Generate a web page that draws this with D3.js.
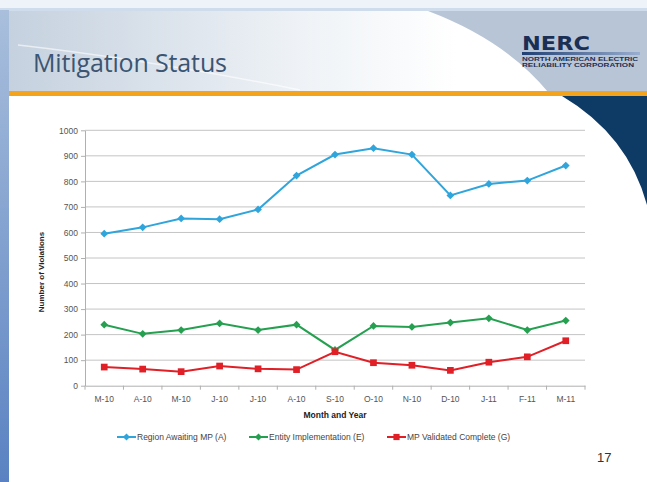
<!DOCTYPE html>
<meta charset="utf-8">
<style>
body { margin: 0; background: #fff; }
svg text { font-family: "Liberation Sans", Arial, sans-serif; }
.grid line { stroke: #c4c4c4; stroke-width: 1; }
.axis path, .axis line { stroke: #b0b0b0; }
.axis text { fill: #555; font-size: 8.5px; }
</style>
<body>
<script src="https://d3js.org/d3.v7.min.js"></script>
<script>

// chart data
var months = ["M-10","A-10","M-10","J-10","J-10","A-10","S-10","O-10","N-10","D-10","J-11","F-11","M-11"];
var regionAwaiting = [595, 620, 655, 652, 690, 823, 905, 930, 905, 745, 790, 803, 862];
var entityImpl = [239, 203, 218, 244, 218, 239, 140, 234, 230, 247, 264, 218, 255];
var mpValidated = [73, 65, 55, 77, 66, 63, 133, 90, 80, 60, 92, 113, 176];
var yTicks = [0, 100, 200, 300, 400, 500, 600, 700, 800, 900, 1000];
var seriesNames = ["Region Awaiting MP (A)", "Entity Implementation (E)", "MP Validated Complete (G)"];

var W = 647, H = 482;
var svg = d3.select("body").append("svg")
    .attr("width", W).attr("height", H);

var defs = svg.append("defs");
var hg = defs.append("linearGradient").attr("id", "hdr");
hg.append("stop").attr("offset", "0").attr("stop-color", "#c5d1df");
hg.append("stop").attr("offset", "0.45").attr("stop-color", "#eef2f6");
hg.append("stop").attr("offset", "0.7").attr("stop-color", "#ffffff");
var lg = defs.append("linearGradient").attr("id", "lside")
    .attr("x1", 0).attr("y1", 0).attr("x2", 0).attr("y2", 1);
lg.append("stop").attr("offset", "0").attr("stop-color", "#a9bfdc");
lg.append("stop").attr("offset", "1").attr("stop-color", "#5a82c2");
var bg = defs.append("linearGradient").attr("id", "bar");
bg.append("stop").attr("offset", "0").attr("stop-color", "#1f3f73");
bg.append("stop").attr("offset", "1").attr("stop-color", "#9aaed0");

// window chrome
svg.append("rect").attr("width", W).attr("height", 10).attr("fill", "#eef3f9");
svg.append("rect").attr("y", 8).attr("width", W).attr("height", 3).attr("fill", "#cfdcec");
svg.append("rect").attr("y", 10).attr("width", 9).attr("height", H - 10).attr("fill", "url(#lside)");

// slide header
svg.append("rect").attr("x", 9).attr("y", 11).attr("width", W - 9).attr("height", 81).attr("fill", "url(#hdr)");
svg.append("path").attr("d", "M18,45 Q150,60 300,90").attr("fill", "none")
    .attr("stroke", "#ffffff").attr("stroke-opacity", 0.6).attr("stroke-width", 1.5);
svg.append("path").attr("d", "M428,11 Q505,40 548,92 L647,92 L647,11 Z").attr("fill", "#b8c5d6");
svg.append("rect").attr("x", 9).attr("y", 91).attr("width", W - 9).attr("height", 5).attr("fill", "#f4a31d");

// navy swoosh
svg.append("path").attr("d", "M562,96 L647,96 L647,205 Q628,135 562,96 Z").attr("fill", "#0e3a66");

svg.append("text").attr("x", 33).attr("y", 72)
    .style("font-family", "'Open Sans', sans-serif").style("font-size", "25px")
    .attr("fill", "#3b5572").attr("textLength", 194).text("Mitigation Status");

// logo
svg.append("text").attr("x", 522).attr("y", 50)
    .style("font-family", "'DejaVu Sans', sans-serif").style("font-weight", "bold").style("font-size", "19px")
    .attr("fill", "#1b2f55").attr("textLength", 68).attr("lengthAdjust", "spacingAndGlyphs").text("NERC");
svg.append("rect").attr("x", 522).attr("y", 52).attr("width", 118).attr("height", 3).attr("fill", "url(#bar)");
svg.append("text").attr("x", 522).attr("y", 61).style("font-size", "6px").style("font-weight", "bold")
    .attr("fill", "#1b2f55").attr("textLength", 116).attr("lengthAdjust", "spacingAndGlyphs").text("NORTH AMERICAN ELECTRIC");
svg.append("text").attr("x", 522).attr("y", 67).style("font-size", "6px").style("font-weight", "bold")
    .attr("fill", "#1b2f55").attr("textLength", 112).attr("lengthAdjust", "spacingAndGlyphs").text("RELIABILITY CORPORATION");

// chart
var x = d3.scaleBand().domain(d3.range(months.length)).range([85, 585]);
var y = d3.scaleLinear().domain([0, 1000]).range([385.7, 130.3]);
var cx = function(i) { return x(i) + x.bandwidth() / 2; };

svg.append("g").attr("class", "grid").selectAll("line")
    .data(yTicks.slice(1)).enter().append("line")
    .attr("x1", 85).attr("x2", 585)
    .attr("y1", function(d) { return y(d); }).attr("y2", function(d) { return y(d); });

svg.append("g").attr("class", "axis")
    .attr("transform", "translate(85,0)")
    .call(d3.axisLeft(y).tickValues(yTicks).tickFormat(d3.format("d")).tickSize(4).tickPadding(3).tickSizeOuter(0))
    .select(".domain").attr("stroke", "#d0d0d0");

var xa = svg.append("g").attr("class", "axis")
    .attr("transform", "translate(0," + y(0) + ")")
    .call(d3.axisBottom(x).tickFormat(function(i) { return months[i]; }).tickSize(0).tickPadding(10).tickSizeOuter(0));
xa.selectAll(".tick").selectAll("line").remove();
xa.selectAll(".bt").data(d3.range(months.length + 1)).enter().append("line")
    .attr("x1", function(i) { return i < months.length ? x(i) : x(i - 1) + x.bandwidth(); })
    .attr("x2", function(i) { return i < months.length ? x(i) : x(i - 1) + x.bandwidth(); })
    .attr("y1", 0).attr("y2", 4).attr("stroke", "#b0b0b0");

svg.append("text").attr("x", 335).attr("y", 418).attr("text-anchor", "middle")
    .style("font-size", "8.5px").style("font-weight", "bold").attr("fill", "#222").text("Month and Year");
svg.append("text").attr("transform", "translate(44,272) rotate(-90)").attr("text-anchor", "middle")
    .style("font-size", "8px").style("font-weight", "bold").attr("fill", "#222").text("Number of Violations");

// diamonds are squares turned 45 degrees
var series = [
    {name: seriesNames[0], values: regionAwaiting, color: "#2fa5dc", rot: 45, size: 30},
    {name: seriesNames[1], values: entityImpl, color: "#25a050", rot: 45, size: 30},
    {name: seriesNames[2], values: mpValidated, color: "#e01f26", rot: 0, size: 45}
];

var line = d3.line().x(function(d, i) { return cx(i); }).y(function(d) { return y(d); });

series.forEach(function(s) {
    svg.append("path").datum(s.values).attr("d", line)
        .attr("fill", "none").attr("stroke", s.color).attr("stroke-width", 2);
    svg.selectAll(null).data(s.values).enter().append("path")
        .attr("d", d3.symbol().type(d3.symbolSquare).size(s.size))
        .attr("transform", function(d, i) { return "translate(" + cx(i) + "," + y(d) + ") rotate(" + s.rot + ")"; })
        .attr("fill", s.color);
});

// legend
var legX = [117, 249, 387];
series.forEach(function(s, k) {
    var g = svg.append("g").attr("transform", "translate(" + legX[k] + ",437)");
    g.append("line").attr("x1", 0).attr("x2", 19).attr("stroke", s.color).attr("stroke-width", 2);
    g.append("path").attr("d", d3.symbol().type(d3.symbolSquare).size(s.size * 0.85))
        .attr("transform", "translate(9.5,0) rotate(" + s.rot + ")").attr("fill", s.color);
    g.append("text").attr("x", 20).attr("y", 3).style("font-size", "8.5px").attr("fill", "#444").text(s.name);
});

svg.append("text").attr("x", 597).attr("y", 462).style("font-size", "13px")
    .attr("fill", "#333").text("17");

</script>
</body>
